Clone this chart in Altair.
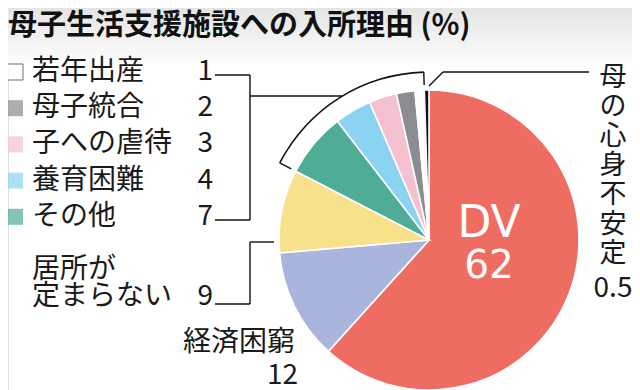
import math
import altair as alt
import pandas as pd

# ---- data ----
categories = ["DV", "経済困窮", "居所が定まらない", "その他", "養育困難",
              "子への虐待", "母子統合", "若年出産", "母の心身不安定"]
values = [62, 12, 9, 7, 4, 3, 2, 1, 0.5]
colors = ["#EF6C62", "#A9B5DC", "#F7E18B", "#4FAD97", "#8CD3F1",
          "#F5C1D0", "#8A8C91", "#FFFFFF", "#111111"]

legend_names = ["若年出産", "母子統合", "子への虐待", "養育困難", "その他"]
legend_values = ["1", "2", "3", "4", "7"]
title_text = "母子生活支援施設への入所理由 (%)"
vertical_label = list("母の心身不安定")

FONT = "Noto Sans CJK JP"
INK = "#1a1a1a"

# ---- layout (chart pixel coords) ----
W, H = 624, 382
CX, CY, R = 421, 232, 150
BR, BR_IN = 168, 155

pie_df = pd.DataFrame({"cat": categories, "value": values,
                       "ord": list(range(len(categories)))})
total = sum(values)

base = alt.Chart(pie_df)

# background gradient at top
bg = alt.Chart(pd.DataFrame({"a": [0]})).mark_rect(
    color=alt.LinearGradient(
        gradient="linear", x1=0, y1=0, x2=0, y2=1,
        stops=[alt.GradientStop(color="#e4e4e4", offset=0),
               alt.GradientStop(color="#ffffff", offset=1)])
).encode(x=alt.value(0), x2=alt.value(W), y=alt.value(0), y2=alt.value(60))

pie = base.mark_arc(outerRadius=R, stroke="white", strokeWidth=1.6).encode(
    theta=alt.Theta("value:Q", stack=True),
    order=alt.Order("ord:Q"),
    color=alt.Color("cat:N", scale=alt.Scale(domain=categories, range=colors), legend=None),
    x=alt.value(CX), y=alt.value(CY),
)

# bracket arc spanning その他 .. 若年出産
start_val = sum(values[:3])
end_val = sum(values[:8])
a0 = start_val / total * 2 * math.pi
a1 = end_val / total * 2 * math.pi
bracket_arc = alt.Chart(pd.DataFrame({"a": [0]})).mark_arc(
    theta=a0, theta2=a1, innerRadius=BR - 0.8, radius=BR + 0.8, color="#111111"
).encode(x=alt.value(CX), y=alt.value(CY))


def polar(angle, r):
    return CX + r * math.sin(angle), CY - r * math.cos(angle)


segs = []
for a in (a0, a1):
    p1 = polar(a, BR)
    p2 = polar(a, BR_IN)
    segs.append((p1[0], p1[1], p2[0], p2[1]))

# left bracket for legend group
y_first, y_last, y_mid = 67, 212, 88
x_mid = CX - math.sqrt(BR ** 2 - (y_mid - CY) ** 2)
segs += [
    (207, y_first, 242, y_first),
    (242, y_first, 242, y_last),
    (207, y_last, 242, y_last),
    (242, y_mid, x_mid, y_mid),
    # 居所が定まらない
    (207, 296, 242, 296),
    (242, 296, 242, 234),
    (242, 234, 266, 234),
    # 母の心身不安定
    (421, 78, 435, 64),
    (435, 64, 581, 64),
]
seg_df = pd.DataFrame(segs, columns=["x", "y", "x2", "y2"])
lines = alt.Chart(seg_df).mark_rule(color="#111111", strokeWidth=1.4).encode(
    x=alt.X("x:Q", scale=None), y=alt.Y("y:Q", scale=None),
    x2="x2:Q", y2="y2:Q",
)

# title
title = alt.Chart(pd.DataFrame({"t": [title_text]})).mark_text(
    font=FONT, fontSize=29, fontWeight="bold", align="left", baseline="middle", color="#111111"
).encode(text="t:N", x=alt.value(0), y=alt.value(18))

# legend rows
row_y = [64 + i * 36.2 for i in range(len(legend_names))]
leg_colors = [colors[categories.index(n)] for n in legend_names]
leg_df = pd.DataFrame({"name": legend_names, "val": legend_values, "y": row_y, "c": leg_colors})
squares = alt.Chart(leg_df).mark_square(size=256, stroke="#333333", strokeWidth=1).encode(
    x=alt.value(7), y=alt.Y("y:Q", scale=None),
    fill=alt.Fill("c:N", scale=None),
    strokeOpacity=alt.condition("datum.c == '#FFFFFF'", alt.value(1), alt.value(0)),
)
leg_text = alt.Chart(leg_df).mark_text(
    font=FONT, fontSize=28, align="left", baseline="middle", color=INK
).encode(text="name:N", x=alt.value(24), y=alt.Y("y:Q", scale=None))
leg_num = alt.Chart(leg_df).mark_text(
    font=FONT, fontSize=28, align="right", baseline="middle", color=INK
).encode(text="val:N", x=alt.value(205), y=alt.Y("y:Q", scale=None))

# other labels
lab_df = pd.DataFrame({
    "t": ["居所が", "定まらない", "9", "経済困窮", "12", "0.5"],
    "x": [24, 24, 205, 175, 290, 605],
    "y": [262, 289, 289, 335, 368, 281],
    "al": ["left", "left", "right", "left", "right", "center"],
})
labels = []
for al in ["left", "right", "center"]:
    sub = lab_df[lab_df["al"] == al]
    labels.append(alt.Chart(sub).mark_text(
        font=FONT, fontSize=28, align=al, baseline="middle", color=INK
    ).encode(text="t:N", x=alt.X("x:Q", scale=None), y=alt.Y("y:Q", scale=None)))

vert_df = pd.DataFrame({"t": vertical_label,
                        "y": [70 + i * 29.3 for i in range(len(vertical_label))]})
vert = alt.Chart(vert_df).mark_text(
    font=FONT, fontSize=27, align="center", baseline="middle", color=INK
).encode(text="t:N", x=alt.value(605), y=alt.Y("y:Q", scale=None))

dv_df = pd.DataFrame({"t": ["DV", "62"], "y": [216, 258], "s": [44, 39]})
dv = alt.Chart(dv_df).mark_text(
    font="DejaVu Sans", align="center", baseline="middle", color="white"
).encode(text="t:N", x=alt.value(481), y=alt.Y("y:Q", scale=None),
         size=alt.Size("s:Q", scale=None, legend=None))

chart = alt.layer(bg, pie, bracket_arc, lines, title, squares, leg_text, leg_num,
                  *labels, vert, dv).properties(
    width=W, height=H, padding=0,
    autosize=alt.AutoSizeParams(type="none"),
).configure_view(stroke=None).configure(background="white")

chart.save("out.html", embed_options={"renderer": "svg", "actions": False})
